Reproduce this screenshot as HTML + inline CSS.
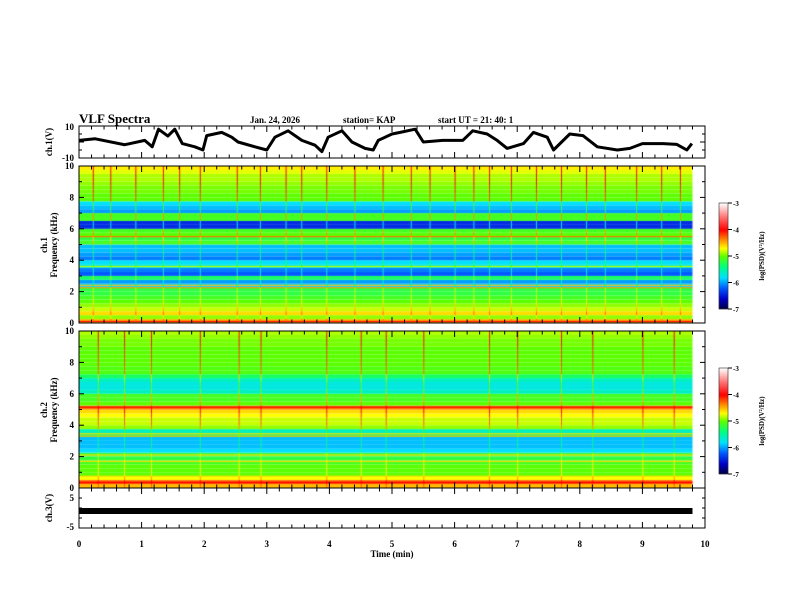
<!DOCTYPE html>
<html><head><meta charset="utf-8">
<style>
html,body{margin:0;padding:0;background:#fff;}
#wrap{position:relative;width:792px;height:612px;overflow:hidden;}
canvas{position:absolute;left:0;top:0;}
svg{position:absolute;left:0;top:0;}
text{font-family:"Liberation Serif",serif;font-weight:bold;fill:#000;}
</style></head>
<body>
<div id="wrap">
<canvas id="cv" width="792" height="612"></canvas>
<svg id="sv" width="792" height="612">
  <text x="79" y="123" font-size="13">VLF Spectra</text>
  <text x="250" y="123" font-size="9">Jan. 24, 2026</text>
  <text x="343" y="123" font-size="9">station= KAP</text>
  <text x="438" y="123" font-size="9">start  UT =   21: 40: 1</text>
  <text transform="translate(52,142) rotate(-90)" text-anchor="middle" font-size="9">ch.1(V)</text>
  <text transform="translate(47,245) rotate(-90)" text-anchor="middle" font-size="9">ch.1</text>
  <text transform="translate(57,245) rotate(-90)" text-anchor="middle" font-size="9">Frequency (kHz)</text>
  <text transform="translate(47,410) rotate(-90)" text-anchor="middle" font-size="9">ch.2</text>
  <text transform="translate(57,410) rotate(-90)" text-anchor="middle" font-size="9">Frequency (kHz)</text>
  <text transform="translate(52,508) rotate(-90)" text-anchor="middle" font-size="9">ch.3(V)</text>
  <text x="392" y="557" text-anchor="middle" font-size="9">Time  (min)</text>
  <text transform="translate(764,256) rotate(-90)" text-anchor="middle" font-size="7">log(PSD)(V²/Hz)</text>
  <text transform="translate(764,421) rotate(-90)" text-anchor="middle" font-size="7">log(PSD)(V²/Hz)</text>
  <g id="axes"></g>
</svg>
</div>
<script>
// ---- data ----
const ch1Times = [0,0.26,0.73,1.05,1.17,1.27,1.42,1.53,1.65,1.85,1.98,2.04,2.28,2.44,2.54,2.81,3.0,3.13,3.34,3.56,3.77,3.88,3.98,4.2,4.36,4.57,4.7,4.78,5.0,5.13,5.37,5.5,5.81,6.13,6.29,6.52,6.68,6.84,7.1,7.26,7.48,7.58,7.84,8.05,8.28,8.6,8.8,9.0,9.33,9.55,9.71,9.79];
const ch1Volts = [1,2,-1.7,1,-3,8,3.7,8,-1,-3,-5,4,6,3,0,-3,-5,3,7,1,-2,-6,3,7,0,-4,-5,1,5,6,8,0,1,1,7,5,1,-4,-1,6,3,-5,5,4,-3,-5,-4,-1,-1,-1.5,-5,-1];
// spectral band profiles: log10 PSD per 0.25 kHz band from 0 to 10 kHz
const spec1Profile = [-4.5,-4.9,-4.6,-4.8,-4.9,-5.0,-5.1,-5.2,-5.2,-5.8,-6.0,-5.3,-6.2,-6.1,-5.7,-5.8,-6.1,-6.0,-5.9,-5.9,-5.1,-5.2,-5.0,-5.1,-6.4,-6.4,-5.1,-5.1,-6.0,-5.9,-5.8,-5.0,-5.0,-4.95,-4.95,-4.9,-4.85,-4.85,-4.75,-4.65];
const spec2Profile = [-4.5,-4.2,-4.7,-5.0,-5.0,-5.0,-5.1,-5.2,-5.2,-5.8,-5.9,-5.9,-5.9,-5.4,-5.6,-4.9,-4.8,-4.8,-4.7,-4.6,-4.3,-5.0,-5.1,-5.1,-5.6,-5.7,-5.7,-5.6,-5.3,-5.05,-5.05,-5.0,-5.0,-5.0,-5.0,-5.0,-4.95,-4.95,-4.9,-4.85];
const spec1Lines = [0.1,2.25,2.4,5.5,3.6];
const spec1LineVals = [-4.0,-4.4,-4.5,-4.3,-4.8];
const spec2Lines = [0.35,0.75,1.7,2.1,3.3,3.45,5.15];
const spec2LineVals = [-4.0,-4.6,-4.6,-4.6,-4.5,-4.6,-4.0];
const spec1Spikes = [0.22,0.5,0.9,1.34,1.6,1.93,2.52,2.89,3.3,3.55,3.95,4.4,4.85,5.3,5.6,6.0,6.3,6.55,6.9,7.3,7.7,8.1,8.4,8.9,9.3,9.6];
const spec2Spikes = [0.3,0.72,1.15,1.93,2.55,2.9,3.95,4.5,4.9,5.5,6.55,7.0,7.7,8.2,9.0,9.5];
const timeTicks = [0,1,2,3,4,5,6,7,8,9,10];
const freqTicks = [0,2,4,6,8,10];
const cbTicks = [-3,-4,-5,-6,-7];
const endTime = 9.8;

// ---- axes functions ----
const X0=79, X1=705;
const xs = t => X0 + (X1-X0)*t/10;
const P = {top:[126,158], s1:[166,323], s2:[331,488], c3:[488,528]};
const yV1 = v => 142 - v*1.6;
const yF = (p,f) => P[p][1] - (P[p][1]-P[p][0])*f/10;

const stops=[[-7,[0,0,60]],[-6.6,[0,0,200]],[-6.2,[0,90,255]],[-5.8,[0,225,255]],[-5.4,[0,255,130]],[-5.0,[90,255,0]],[-4.7,[255,255,0]],[-4.4,[255,150,0]],[-4.0,[255,0,0]],[-3.5,[255,120,120]],[-3,[255,255,255]]];
function cmap(v){
  if(v<=-7) return 'rgb(0,0,60)'; if(v>=-3) return 'rgb(255,255,255)';
  for(let i=0;i<stops.length-1;i++){const a=stops[i],b=stops[i+1];
    if(v>=a[0]&&v<=b[0]){const k=(v-a[0])/(b[0]-a[0]);
      return 'rgb('+a[1].map((c,j)=>Math.round(c+(b[1][j]-c)*k)).join(',')+')';}}
}
const cv=document.getElementById('cv'), ctx=cv.getContext('2d');
function drawSpec(p,prof,lines,lineVals,spikes){
  const bw=10/prof.length;
  prof.forEach((v,i)=>{
    const ya=yF(p,(i+1)*bw), yb=yF(p,i*bw);
    ctx.fillStyle=cmap(v); ctx.fillRect(X0,ya,xs(endTime)-X0,yb-ya);
  });
  lines.forEach((f,i)=>{ctx.fillStyle=cmap(lineVals[i]); ctx.fillRect(X0,yF(p,f)-0.6,xs(endTime)-X0,1.2);});
  spikes.forEach(t=>{
    prof.forEach((v,i)=>{
      const ya=yF(p,(i+1)*bw), yb=yF(p,i*bw);
      ctx.fillStyle=cmap(Math.min(v+0.7*(i/prof.length)+0.25,-4.0)); ctx.fillRect(xs(t),ya,1,yb-ya);
    });
  });
}
drawSpec('s1',spec1Profile,spec1Lines,spec1LineVals,spec1Spikes);
drawSpec('s2',spec2Profile,spec2Lines,spec2LineVals,spec2Spikes);
// colorbars
[[203,309],[368,474]].forEach(([a,b])=>{
  for(let y=a;y<b;y++){ctx.fillStyle=cmap(-3-4*(y-a)/(b-a)); ctx.fillRect(719,y,9,1);}
});

// ---- SVG axes ----
const NS='http://www.w3.org/2000/svg', g=document.getElementById('axes');
function el(tag,attrs,name){const e=document.createElementNS(NS,tag);for(const k in attrs)e.setAttribute(k,attrs[k]);
  
  
  g.appendChild(e);return e;}
function txt(x,y,s,name,anchor,size){const e=el('text',{x:x,y:y,'font-size':size||9,'text-anchor':anchor||'end'},name);e.textContent=s;return e;}
// waveform
el('polyline',{points:ch1Times.map((t,i)=>xs(t)+','+yV1(ch1Volts[i])).join(' '),fill:'none',stroke:'#000','stroke-width':3,'stroke-linejoin':'round'},'ch1-waveform');
// ch3 bar
el('rect',{x:X0,y:508,width:xs(endTime)-X0,height:6,fill:'#000'},'ch3-signal');
// frames + x ticks
Object.keys(P).forEach(k=>{
  const [a,b]=P[k];
  el('rect',{x:X0,y:a,width:X1-X0,height:b-a,fill:'none',stroke:'#000','stroke-width':1},k+'-frame');
  for(let t=0;t<=10.001;t+=0.2){
    const maj=Math.abs(t-Math.round(t))<0.01, L=maj?6:3.5;
    el('line',{x1:xs(t),x2:xs(t),y1:a,y2:a+L,stroke:'#000','stroke-width':1},k+'-x-tick');
    el('line',{x1:xs(t),x2:xs(t),y1:b,y2:b-L,stroke:'#000','stroke-width':1},k+'-x-tick');
  }
});
timeTicks.forEach(t=>txt(xs(t),547,String(t),'x-tick-label','middle'));
// y ticks
function yt(y,name,maj){const L=maj?5:3;
  el('line',{x1:X0,x2:X0+L,y1:y,y2:y,stroke:'#000'},name);
  el('line',{x1:X1,x2:X1-L,y1:y,y2:y,stroke:'#000'},name);}
['s1','s2'].forEach(p=>{
  for(let f=0;f<=10;f++) yt(yF(p,f),p+'-y-tick',f%2==0);
  freqTicks.forEach(f=>txt(74,yF(p,f)+3,String(f),p+'-y-tick-label'));
});
[-10,-5,0,5,10].forEach(v=>yt(yV1(v),'ch1-y-tick',v%10==0));
txt(74,130,'10','ch1-y-tick-label'); txt(74,161,'-10','ch1-y-tick-label');
[498,508,518].forEach(y=>yt(y,'ch3-y-tick',false));
txt(74,501,'5','ch3-y-tick-label'); txt(74,530,'-5','ch3-y-tick-label');
// colorbar ticks
[[203,309],[368,474]].forEach(([a,b],j)=>{
  el('rect',{x:719,y:a,width:9,height:b-a,fill:'none',stroke:'#000','stroke-width':0.5},'colorbar'+(j+1));
  cbTicks.forEach((v,i)=>{const y=a+(b-a)*i/4;
    el('line',{x1:728,x2:732,y1:y,y2:y,stroke:'#000'},'colorbar-tick');
    txt(733,y+3,String(v),'colorbar-tick-label','start',7);});
});
</script>
</body></html>
